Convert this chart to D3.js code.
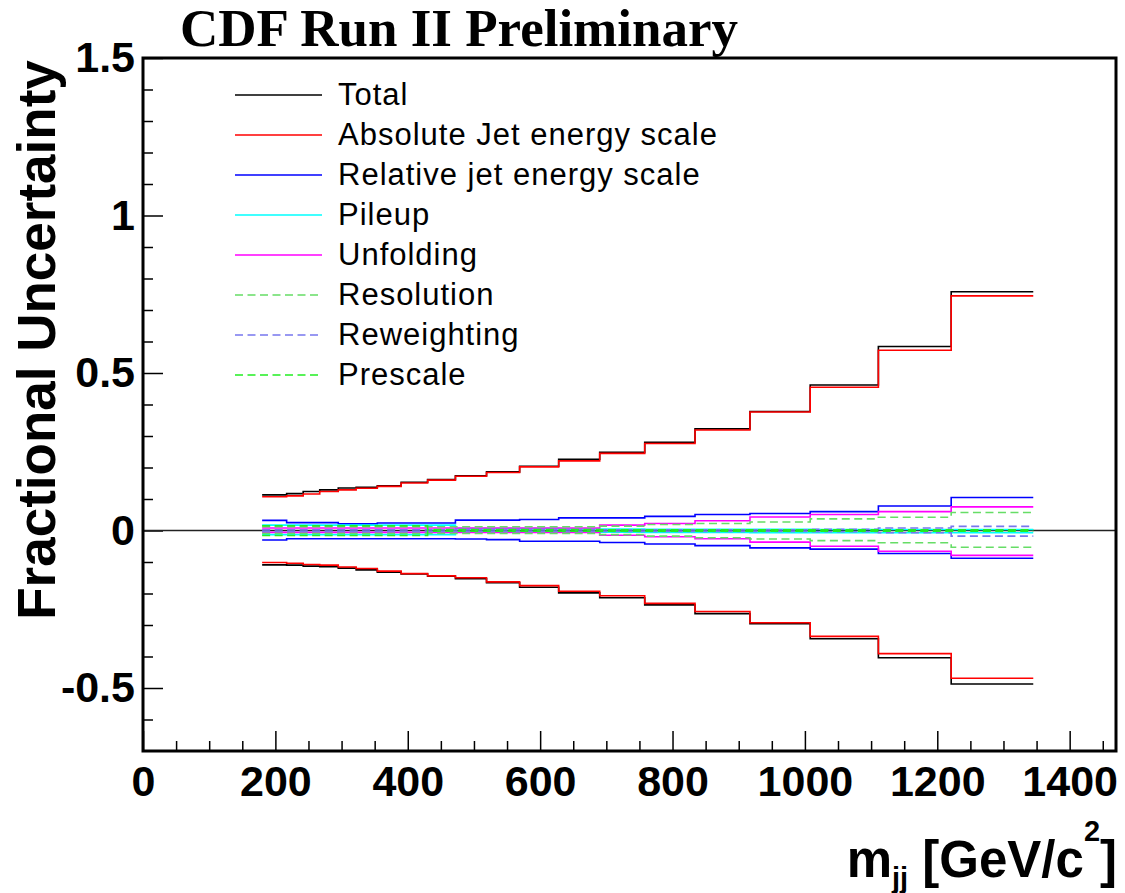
<!DOCTYPE html>
<html>
<head>
<meta charset="utf-8">
<script src="https://cdn.jsdelivr.net/npm/d3@7"></script>
<style>
  body { margin: 0; background: #fff; }
  svg { display: block; }
  text { font-family: "Liberation Sans", Arial, sans-serif; }
</style>
</head>
<body>
<svg width="1125" height="893"></svg>
<script>
// bin edges in m_jj [GeV/c^2]
const massEdges = [180, 217, 242, 267, 295, 322, 354, 390, 430, 472, 519,
  569, 628, 690, 758, 834, 917, 1008, 1111, 1221, 1345];

// fractional uncertainties per bin (upper / lower)
const totalUp = [0.113, 0.117, 0.124, 0.129, 0.135, 0.137, 0.142, 0.153, 0.162, 0.174,
  0.186, 0.204, 0.226, 0.248, 0.280, 0.3225, 0.378, 0.462, 0.584, 0.758];
const totalDown = [-0.109, -0.110, -0.113, -0.115, -0.1195, -0.125, -0.132, -0.138, -0.145, -0.153,
  -0.166, -0.180, -0.198, -0.2135, -0.236, -0.264, -0.296, -0.3435, -0.404, -0.4875];
const absJesUp = [0.107, 0.110, 0.116, 0.124, 0.129, 0.134, 0.140, 0.151, 0.160, 0.172,
  0.184, 0.202, 0.221, 0.245, 0.276, 0.319, 0.376, 0.455, 0.572, 0.745];
const absJesDown = [-0.1015, -0.104, -0.108, -0.110, -0.116, -0.1205, -0.129, -0.137, -0.144, -0.150,
  -0.163, -0.175, -0.193, -0.207, -0.2315, -0.257, -0.293, -0.336, -0.391, -0.469];
const relJesUp = [0.032, 0.025, 0.025, 0.025, 0.021, 0.021, 0.024, 0.024, 0.024, 0.033,
  0.033, 0.035, 0.040, 0.040, 0.045, 0.051, 0.054, 0.060, 0.078, 0.105];
const relJesDown = [-0.030, -0.026, -0.026, -0.026, -0.026, -0.026, -0.026, -0.026, -0.026, -0.027,
  -0.029, -0.034, -0.034, -0.038, -0.043, -0.048, -0.055, -0.059, -0.073, -0.088];
const pileupUp = [0.017, 0.017, 0.017, 0.017, 0.017, 0.017, 0.017, 0.017, 0.017, 0.006,
  0.006, 0.006, 0.005, 0.005, 0.004, 0.004, 0.004, 0.003, 0.003, 0.003];
const pileupDown = [-0.013, -0.013, -0.013, -0.013, -0.013, -0.013, -0.013, -0.013, -0.013, -0.004,
  -0.004, -0.004, -0.005, -0.005, -0.006, -0.006, -0.007, -0.007, -0.007, -0.007];
const unfoldingUp = [0.008, 0.008, 0.008, 0.008, 0.008, 0.008, 0.008, 0.008, 0.008, 0.008,
  0.008, 0.008, 0.008, 0.017, 0.022, 0.031, 0.043, 0.051, 0.060, 0.075];
const unfoldingDown = [-0.006, -0.006, -0.006, -0.006, -0.006, -0.006, -0.006, -0.006, -0.006, -0.006,
  -0.006, -0.006, -0.006, -0.015, -0.020, -0.026, -0.037, -0.050, -0.066, -0.079];
const resolutionUp = [0.012, 0.012, 0.012, 0.012, 0.012, 0.012, 0.012, 0.012, 0.012, 0.012,
  0.012, 0.012, 0.012, 0.014, 0.019, 0.022, 0.027, 0.037, 0.042, 0.057];
const resolutionDown = [-0.009, -0.009, -0.009, -0.009, -0.009, -0.009, -0.009, -0.009, -0.009, -0.009,
  -0.009, -0.009, -0.009, -0.013, -0.018, -0.023, -0.027, -0.032, -0.039, -0.053];
const reweightingUp = [0.002, 0.002, 0.002, 0.002, 0.002, 0.002, 0.002, 0.002, 0.002, 0.002,
  0.002, 0.002, 0.002, 0.002, 0.002, 0.002, 0.002, 0.004, 0.008, 0.013];
const reweightingDown = [-0.003, -0.003, -0.003, -0.003, -0.003, -0.003, -0.003, -0.003, -0.003, -0.003,
  -0.003, -0.003, -0.003, -0.003, -0.003, -0.003, -0.003, -0.004, -0.007, -0.018];
const prescaleUp = [0.015, 0.015, 0.015, 0.015, 0.015, 0.015, 0.015, 0.015, 0.003, 0.003,
  0.003, 0.003, 0.003, 0.002, 0.002, 0.002, 0.002, 0.002, 0.002, 0.002];
const prescaleDown = [-0.016, -0.016, -0.016, -0.016, -0.016, -0.016, -0.016, -0.016, -0.002, -0.002,
  -0.002, -0.002, -0.002, -0.002, -0.002, -0.002, -0.002, -0.002, -0.002, -0.002];

const seriesLabels = ['Total', 'Absolute Jet energy scale', 'Relative jet energy scale', 'Pileup',
  'Unfolding', 'Resolution', 'Reweighting', 'Prescale'];
const seriesUp = [totalUp, absJesUp, relJesUp, pileupUp, unfoldingUp, resolutionUp, reweightingUp, prescaleUp];
const seriesDown = [totalDown, absJesDown, relJesDown, pileupDown, unfoldingDown, resolutionDown, reweightingDown, prescaleDown];
const seriesColors = ['#000000', '#ff0000', '#0000ff', '#00ffff', '#ff00ff', '#66dd66', '#7777ee', '#22ee22'];
const seriesDashed = [false, false, false, false, false, true, true, true];

const xTickValues = [0, 200, 400, 600, 800, 1000, 1200, 1400];
const yTickValues = [-0.5, 0, 0.5, 1, 1.5];
const yTickLabels = ['-0.5', '0', '0.5', '1', '1.5'];

const svg = d3.select('svg');

const xScale = d3.scaleLinear().domain([0, 1470]).range([143, 1116]);
const yScale = d3.scaleLinear().domain([-0.7, 1.5]).range([751, 58]);

// title
svg.append('text')
    .attr('x', 180)
    .attr('y', 46)
    .style('font-family', '"Liberation Serif", "Times New Roman", serif')
    .style('font-weight', 'bold')
    .style('font-size', '53px')
    .text('CDF Run II Preliminary');

// axes
const xMinor = d3.range(0, 1470, 50).filter(v => v % 200 !== 0);
const yMinor = d3.range(-6, 15).map(v => v / 10).filter(v => Math.abs(v * 2 - Math.round(v * 2)) > 1e-6);

svg.append('g')
    .attr('transform', `translate(0, ${yScale(-0.7)})`)
    .call(d3.axisBottom(xScale).tickValues(xMinor).tickSize(-10).tickFormat(''))
    .call(g => g.select('.domain').remove())
    .call(g => g.selectAll('line').attr('stroke', '#000').attr('stroke-width', 1.5));

svg.append('g')
    .attr('transform', `translate(0, ${yScale(-0.7)})`)
    .call(d3.axisBottom(xScale).tickValues(xTickValues).tickSize(-20).tickPadding(14).tickFormat(d3.format('d')))
    .call(g => g.select('.domain').remove())
    .call(g => g.selectAll('line').attr('stroke', '#000').attr('stroke-width', 1.5))
    .call(g => g.selectAll('text')
        .attr('fill', '#000')
        .style('font-size', '43px')
        .style('font-weight', 'bold'));

svg.append('g')
    .attr('transform', `translate(${xScale(0)}, 0)`)
    .call(d3.axisLeft(yScale).tickValues(yMinor).tickSize(-10).tickFormat(''))
    .call(g => g.select('.domain').remove())
    .call(g => g.selectAll('line').attr('stroke', '#000').attr('stroke-width', 1.5));

svg.append('g')
    .attr('transform', `translate(${xScale(0)}, 0)`)
    .call(d3.axisLeft(yScale).tickValues(yTickValues).tickSize(-20).tickPadding(8)
        .tickFormat((d, i) => yTickLabels[i]))
    .call(g => g.select('.domain').remove())
    .call(g => g.selectAll('line').attr('stroke', '#000').attr('stroke-width', 1.5))
    .call(g => g.selectAll('text')
        .attr('fill', '#000')
        .style('font-size', '43px')
        .style('font-weight', 'bold'));

// zero line
svg.append('line')
    .attr('x1', xScale(0)).attr('x2', xScale(1470))
    .attr('y1', yScale(0)).attr('y2', yScale(0))
    .attr('stroke', '#222')
    .attr('stroke-width', 1.5);

// step histograms
const stepLine = d3.line()
    .x(d => xScale(d[0]))
    .y(d => yScale(d[1]))
    .curve(d3.curveStepAfter);

function stepPoints(values) {
  return massEdges.map((e, i) => [e, values[Math.min(i, values.length - 1)]]);
}

seriesLabels.forEach((label, i) => {
  [seriesUp[i], seriesDown[i]].forEach(vals => {
    svg.append('path')
        .attr('d', stepLine(stepPoints(vals)))
        .attr('fill', 'none')
        .attr('stroke', seriesColors[i])
        .attr('stroke-width', 1.6)
        .attr('stroke-dasharray', seriesDashed[i] ? '8,4.5' : null);
  });
});

// frame
svg.append('rect')
    .attr('x', xScale(0))
    .attr('y', yScale(1.5))
    .attr('width', xScale(1470) - xScale(0))
    .attr('height', yScale(-0.7) - yScale(1.5))
    .attr('fill', 'none')
    .attr('stroke', '#000')
    .attr('stroke-width', 3);

// legend
const legend = svg.append('g').attr('class', 'legend');
seriesLabels.forEach((label, i) => {
  const ly = 95 + i * 40;
  legend.append('line')
      .attr('x1', 235).attr('x2', 322)
      .attr('y1', ly).attr('y2', ly)
      .attr('stroke', seriesColors[i])
      .attr('stroke-width', 1.5)
      .attr('stroke-dasharray', seriesDashed[i] ? '8,4.5' : null);
  legend.append('text')
      .attr('x', 338)
      .attr('y', ly + 10)
      .style('font-size', '31px')
      .style('letter-spacing', '1px')
      .text(label);
});

// axis titles
svg.append('text')
    .attr('transform', `translate(55, 340) rotate(-90)`)
    .attr('text-anchor', 'middle')
    .style('font-size', '53px')
    .style('font-weight', 'bold')
    .text('Fractional Uncertainty');

const xTitle = svg.append('text')
    .attr('x', 1117)
    .attr('y', 877)
    .attr('text-anchor', 'end')
    .style('font-size', '51px')
    .style('font-weight', 'bold');
xTitle.append('tspan').text('m');
xTitle.append('tspan').attr('dy', 11).style('font-size', '29px').text('jj');
xTitle.append('tspan').attr('dy', -11).text(' [GeV/c');
xTitle.append('tspan').attr('dy', -36).style('font-size', '29px').text('2');
xTitle.append('tspan').attr('dy', 36).text(']');
</script>
</body>
</html>
